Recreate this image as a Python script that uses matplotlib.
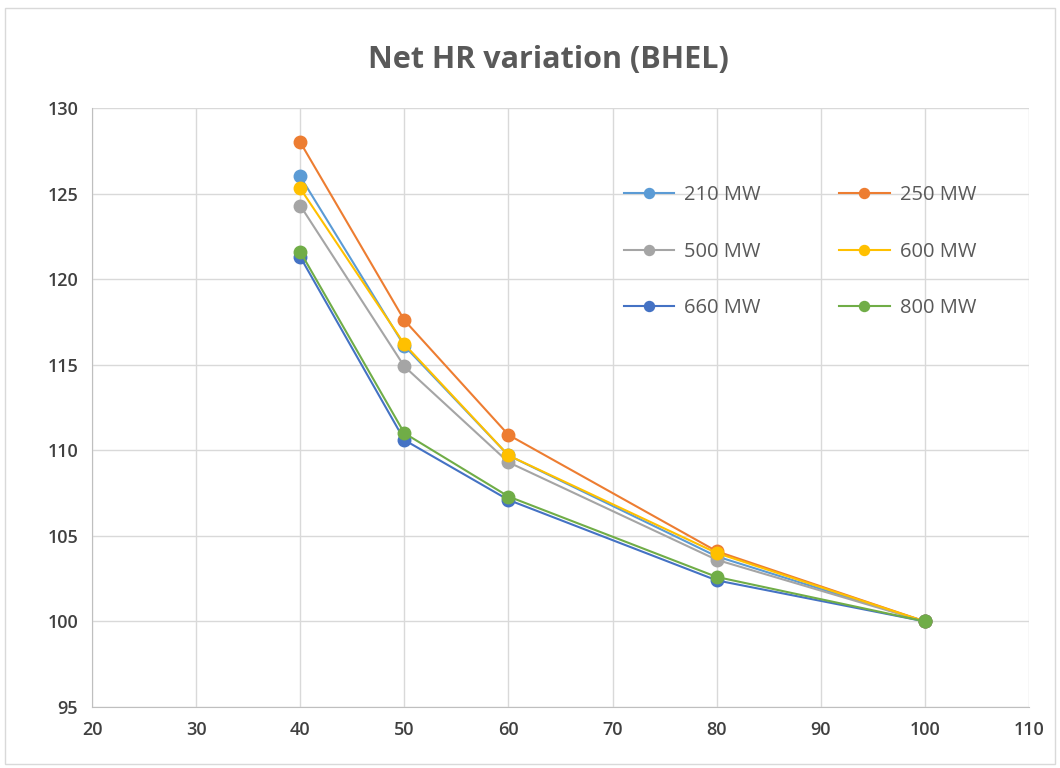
import matplotlib.pyplot as plt

plt.rcParams['font.family'] = ['Open Sans', 'DejaVu Sans']

# Datos
carga = [40, 50, 60, 80, 100]
series = ['210 MW', '250 MW', '500 MW', '600 MW', '660 MW', '800 MW']
hr_210 = [126.0, 116.1, 109.7, 103.8, 100.0]
hr_250 = [128.0, 117.6, 110.9, 104.1, 100.0]
hr_500 = [124.3, 114.9, 109.3, 103.6, 100.0]
hr_600 = [125.3, 116.2, 109.7, 104.0, 100.0]
hr_660 = [121.3, 110.6, 107.1, 102.4, 100.0]
hr_800 = [121.6, 111.0, 107.3, 102.6, 100.0]
valores = [hr_210, hr_250, hr_500, hr_600, hr_660, hr_800]
colores = ['#5B9BD5', '#ED7D31', '#A5A5A5', '#FFC000', '#4472C4', '#70AD47']

fig = plt.figure(figsize=(10.6, 7.68), dpi=100)
ax = fig.add_axes([0.0868, 0.0794, 0.884, 0.78])

lineas = []
for nombre, v, c in zip(series, valores, colores):
    l, = ax.plot(carga, v, color=c, lw=1.5, marker='o', ms=9, label=nombre)
    lineas.append(l)

ax.set_xlim(20, 110)
ax.set_ylim(95, 130)
ax.set_xticks(range(20, 111, 10))
ax.set_yticks(range(95, 131, 5))
ax.grid(True, color='#D9D9D9', lw=1)
ax.set_axisbelow(True)
for s in ax.spines.values():
    s.set_visible(False)
ax.spines['bottom'].set_visible(True)
ax.spines['bottom'].set_color('#BFBFBF')
ax.spines['left'].set_visible(True)
ax.spines['left'].set_color('#BFBFBF')
ax.tick_params(length=0, labelsize=13, colors='#404040', pad=10)
for lab in ax.get_xticklabels() + ax.get_yticklabels():
    lab.set_fontweight('semibold')

fig.text(0.517, 0.922, 'Net HR variation (BHEL)', ha='center', va='center',
         fontsize=22, fontweight='bold', color='#595959')

# orden por filas como en Excel
orden = [0, 2, 4, 1, 3, 5]
leg = ax.legend([lineas[i] for i in orden], [series[i] for i in orden],
                ncol=2, loc='upper left', bbox_to_anchor=(0.548, 0.901),
                frameon=False, fontsize=14.5, labelspacing=1.8, columnspacing=3.9,
                handlelength=2.5, handletextpad=0.5, markerscale=0.8)
for t in leg.get_texts():
    t.set_color('#595959')

fig.patches.append(plt.Rectangle((0.005, 0.005), 0.99, 0.985, transform=fig.transFigure,
                                 fill=False, edgecolor='#D9D9D9', lw=1))

plt.savefig('out.png', dpi=100)
